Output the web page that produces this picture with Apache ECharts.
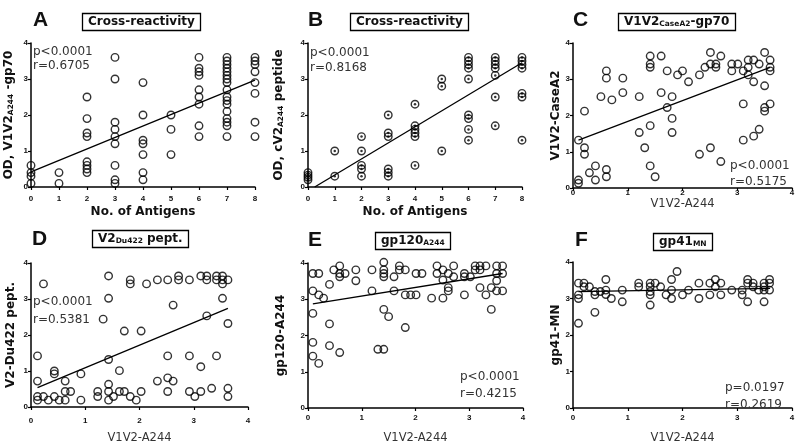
<!DOCTYPE html>
<html><head><meta charset="utf-8">
<script src="https://cdn.jsdelivr.net/npm/echarts@6/dist/echarts.min.js"></script>
<style>html,body{margin:0;padding:0;background:#fff}#c{width:800px;height:445px}</style>
</head><body><div id="c"></div>
<script>
// ---- Data ----
const ptsA = [[0,0.6],[0,0.4],[0,0.3],[0,0.1],[1,0.4],[1,0.1],
 [2,2.5],[2,1.9],[2,1.5],[2,1.4],[2,0.7],[2,0.6],[2,0.5],[2,0.4],
 [3,3.6],[3,3.0],[3,1.8],[3,1.6],[3,1.4],[3,1.2],[3,0.6],[3,0.2],[3,0.1],
 [4,2.9],[4,2.0],[4,1.3],[4,1.2],[4,0.9],[4,0.4],[4,0.2],
 [5,2.0],[5,1.6],[5,0.9],
 [6,3.6],[6,3.3],[6,3.2],[6,3.1],[6,2.7],[6,2.5],[6,2.3],[6,1.7],[6,1.4],
 [7,3.6],[7,3.5],[7,3.4],[7,3.3],[7,3.2],[7,3.1],[7,3.0],[7,2.9],[7,2.7],[7,2.5],[7,2.4],[7,2.3],[7,2.1],[7,1.9],[7,1.8],[7,1.7],[7,1.4],
 [8,3.6],[8,3.5],[8,3.4],[8,3.2],[8,2.9],[8,2.6],[8,1.8],[8,1.4]];
const lineA = [[0,0.42],[8,2.97]];

const ptsB = [[0,0.4],[0,0.33],[0,0.27],[0,0.2],[1,1.0],[1,0.3],
 [2,1.4],[2,1.0],[2,0.6],[2,0.5],[2,0.3],
 [3,2.0],[3,1.5],[3,1.4],[3,0.5],[3,0.4],[3,0.3],
 [4,2.3],[4,1.7],[4,1.6],[4,1.5],[4,1.4],[4,0.6],
 [5,3.0],[5,2.8],[5,1.0],
 [6,3.6],[6,3.5],[6,3.4],[6,3.3],[6,3.0],[6,2.0],[6,1.9],[6,1.6],[6,1.3],
 [7,3.6],[7,3.5],[7,3.4],[7,3.3],[7,3.1],[7,2.5],[7,1.7],
 [8,3.6],[8,3.5],[8,3.4],[8,3.3],[8,2.6],[8,2.5],[8,1.3]];
const lineB = [[0.25,0],[8,3.45]];

const ptsC = [[0.1,1.32],[0.1,0.22],[0.1,0.13],[0.21,2.12],[0.21,1.11],[0.21,0.93],[0.3,0.42],[0.41,0.61],[0.41,0.22],
 [0.51,2.52],[0.61,3.23],[0.61,3.03],[0.61,0.51],[0.61,0.31],[0.71,2.43],[0.91,3.03],[0.91,2.63],
 [1.21,2.52],[1.21,1.53],[1.31,1.11],[1.41,3.64],[1.41,3.42],[1.41,3.33],[1.41,1.72],[1.41,0.61],[1.5,0.31],
 [1.61,3.64],[1.61,2.63],[1.72,3.23],[1.72,2.22],[1.81,2.52],[1.81,1.92],[1.81,1.53],[1.91,3.12],[2.0,3.23],[2.11,2.93],
 [2.31,3.12],[2.31,0.93],[2.41,3.33],[2.51,3.74],[2.51,3.42],[2.51,1.11],[2.61,3.42],[2.61,3.33],[2.7,3.64],[2.7,0.73],
 [2.9,3.42],[2.9,3.23],[3.01,3.42],[3.11,3.23],[3.11,2.32],[3.11,1.32],[3.2,3.53],[3.2,3.33],[3.2,3.12],
 [3.3,3.53],[3.3,2.93],[3.3,1.43],[3.4,3.42],[3.4,1.62],[3.5,3.74],[3.5,2.82],[3.5,2.22],[3.5,2.12],
 [3.6,3.53],[3.6,3.33],[3.6,3.23],[3.6,2.32]];
const lineC = [[0.1,1.32],[3.6,3.33]];

const ptsD = [[0.23,3.42],[0.12,1.42],[0.12,0.72],[0.12,0.29],[0.12,0.19],[0.23,0.29],[0.32,0.19],[0.43,0.29],[0.43,1.0],[0.43,0.92],
 [0.52,0.19],[0.63,0.72],[0.63,0.43],[0.63,0.19],[0.73,0.43],[0.92,0.92],[0.92,0.19],[1.23,0.43],[1.23,0.29],[1.33,2.44],
 [1.43,3.64],[1.43,3.02],[1.43,1.32],[1.43,0.63],[1.43,0.43],[1.43,0.19],[1.52,0.29],[1.63,1.01],[1.63,0.43],[1.72,2.11],[1.72,0.43],
 [1.83,3.53],[1.83,3.42],[1.83,0.29],[1.94,0.19],[2.03,2.11],[2.03,0.43],[2.13,3.42],[2.33,3.53],[2.33,0.72],
 [2.52,1.42],[2.52,0.81],[2.52,0.43],[2.52,3.53],[2.62,2.83],[2.62,0.72],[2.72,3.64],[2.72,3.53],[2.92,3.53],[2.92,1.42],[2.92,0.43],
 [3.02,0.29],[3.13,3.64],[3.13,1.12],[3.13,0.43],[3.24,3.64],[3.24,3.53],[3.24,2.53],[3.33,0.52],[3.42,3.64],[3.42,3.53],[3.42,1.42],
 [3.53,3.64],[3.53,3.42],[3.53,3.53],[3.53,3.02],[3.63,3.53],[3.63,2.32],[3.63,0.52],[3.63,0.29]];
const lineD = [[0.12,0.54],[3.63,2.74]];

const ptsE = [[0.09,3.71],[0.2,3.71],[0.09,3.23],[0.2,3.12],[0.29,3.03],[0.09,2.61],[0.09,1.81],[0.09,1.43],[0.2,1.23],
 [0.4,3.41],[0.4,2.32],[0.4,1.72],[0.48,3.81],[0.59,3.92],[0.59,3.71],[0.59,3.62],[0.59,1.53],[0.69,3.71],[0.89,3.81],[0.89,3.51],
 [1.19,3.81],[1.19,3.23],[1.3,1.62],[1.41,1.62],[1.41,4.02],[1.41,3.81],[1.41,3.71],[1.41,3.62],[1.41,2.72],[1.5,2.52],
 [1.6,3.62],[1.6,3.23],[1.7,3.92],[1.7,3.81],[1.81,3.81],[1.81,2.22],[1.81,3.12],[1.91,3.12],[2.01,3.12],[2.01,3.71],[2.12,3.71],
 [2.3,3.03],[2.4,3.92],[2.4,3.71],[2.51,3.81],[2.51,3.03],[2.51,3.53],[2.61,3.32],[2.61,3.23],[2.61,3.71],[2.71,3.92],[2.71,3.62],
 [2.91,3.71],[2.91,3.62],[2.91,3.12],[3.02,3.62],[3.11,3.92],[3.2,3.92],[3.31,3.92],[3.2,3.81],[3.11,3.81],[3.2,3.32],[3.31,3.12],
 [3.41,3.32],[3.41,2.72],[3.51,3.92],[3.62,3.92],[3.51,3.71],[3.51,3.51],[3.51,3.23],[3.62,3.71],[3.62,3.23]];
const lineE = [[0.09,2.87],[3.62,3.71]];

const ptsF = [[0.1,2.32],[0.1,3.42],[0.1,3.1],[0.1,3.0],[0.2,3.42],[0.2,3.32],[0.3,3.32],[0.4,2.62],[0.4,3.19],[0.4,3.1],
 [0.5,3.19],[0.6,3.52],[0.6,3.23],[0.6,3.11],[0.7,3.0],[0.9,3.23],[0.9,2.91],[1.2,3.42],[1.2,3.32],
 [1.41,3.42],[1.41,3.32],[1.41,3.19],[1.41,3.1],[1.41,2.82],[1.5,3.42],[1.6,3.32],[1.7,3.1],[1.8,3.52],[1.8,3.23],[1.8,3.0],
 [1.9,3.74],[2.0,3.1],[2.11,3.23],[2.3,3.42],[2.3,3.0],[2.5,3.42],[2.5,3.1],[2.6,3.52],[2.6,3.32],[2.7,3.42],[2.7,3.1],
 [2.9,3.23],[3.09,3.23],[3.09,3.1],[3.19,3.52],[3.19,3.42],[3.19,2.91],[3.29,3.42],[3.29,3.32],[3.39,3.23],
 [3.49,3.42],[3.49,3.32],[3.49,3.23],[3.49,2.91],[3.59,3.52],[3.59,3.42],[3.59,3.23]];
const lineF = [[0.1,3.19],[3.6,3.28]];

const panelLetters = ['A','B','C','D','E','F'];
const boxTitles = ['Cross-reactivity','Cross-reactivity','V1V2{s|CaseA2}-gp70','V2{s|Du422} pept.','gp120{s|A244}','gp41{s|MN}'];
const statTexts = ['p<0.0001\nr=0.6705','p<0.0001\nr=0.8168','p<0.0001\nr=0.5175','p<0.0001\nr=0.5381','p<0.0001\nr=0.4215','p=0.0197\nr=0.2619'];
const xNames = ['No. of Antigens','No. of Antigens','V1V2-A244','V1V2-A244','V1V2-A244','V1V2-A244'];
const yNames = ['OD, V1V2{s|A244} -gp70','OD, cV2{s|A244} peptide','V1V2-CaseA2','V2-Du422 pept.','gp120-A244','gp41-MN'];
const xMaxes = [8,8,4,4,4,4];
const yMax = 4;

// ---- Layout ----
const grids = [
 {left:31,top:43,width:224,height:144},
 {left:308,top:43,width:214,height:144},
 {left:573,top:43,width:219,height:145},
 {left:31,top:263,width:217,height:144},
 {left:308,top:263,width:215,height:145},
 {left:573,top:262,width:219,height:146}
];
const xLabelMargin = [8,8,1,10,6,6];
const xNameGap = [19,19,9,25,24,24];
const xNameBold = [true,true,false,false,false,false];
const yNameGap = [16,23,10,14,21,11];
const letterPos = [[33,10],[308,10],[573,10],[32,229],[308,230],[575,230]];
const boxPos = [[82,13],[350,13],[618,13],[92,230],[375,232],[653,233]];
const statPos = [[33,45],[310,45],[730,158],[33,293],[460,368],[725,379]];
const statLH = [14,15,16,18,17,17];

const FONT = 'DejaVu Sans';
const pts = [ptsA,ptsB,ptsC,ptsD,ptsE,ptsF];
const lines = [lineA,lineB,lineC,lineD,lineE,lineF];

const sub = {fontSize:7.5,fontWeight:'bold',fontFamily:FONT,color:'#111',verticalAlign:'bottom',padding:[3,0,0,0]};

const titles = [];
panelLetters.forEach((t,i)=>titles.push({text:t,left:letterPos[i][0],top:letterPos[i][1],padding:0,
  textStyle:{fontSize:21,fontWeight:'bold',fontFamily:'Liberation Sans',color:'#111'}}));
boxTitles.forEach((t,i)=>titles.push({text:t,left:boxPos[i][0],top:boxPos[i][1],padding:[3,6,3,6],
  borderColor:'#000',borderWidth:1.3,
  textStyle:{fontSize:12,fontWeight:'bold',fontFamily:FONT,color:'#111',rich:{s:sub}}}));
statTexts.forEach((t,i)=>titles.push({text:t,left:statPos[i][0],top:statPos[i][1],padding:0,
  textStyle:{fontSize:12,fontWeight:'normal',fontFamily:FONT,color:'#333',lineHeight:statLH[i]}}));

const xAxis = [], yAxis = [], series = [];
for(let i=0;i<6;i++){
  xAxis.push({gridIndex:i,type:'value',min:0,max:xMaxes[i],interval:1,
    axisLine:{show:true,onZero:false,lineStyle:{color:'#000',width:1.5}},
    axisTick:{show:true,length:3,lineStyle:{color:'#000',width:1.2}},
    splitLine:{show:false},
    axisLabel:{show:true,margin:xLabelMargin[i],fontSize:8,fontWeight:'bold',fontFamily:'Liberation Sans',color:'#111'},
    name:xNames[i],nameLocation:'middle',nameGap:xNameGap[i],
    nameTextStyle:{fontSize:xNameBold[i]?12:11.5,fontWeight:xNameBold[i]?'bold':'normal',fontFamily:FONT,color:xNameBold[i]?'#111':'#333'}});
  yAxis.push({gridIndex:i,type:'value',min:0,max:yMax,interval:1,
    axisLine:{show:true,onZero:false,lineStyle:{color:'#000',width:1.5}},
    axisTick:{show:true,length:3,lineStyle:{color:'#000',width:1.2}},
    splitLine:{show:false},
    axisLabel:{show:true,margin:3,fontSize:8,fontWeight:'bold',fontFamily:'Liberation Sans',color:'#111'},
    name:yNames[i],nameLocation:'middle',nameGap:yNameGap[i],nameRotate:90,
    nameTextStyle:{fontSize:12,fontWeight:'bold',fontFamily:FONT,color:'#111',rich:{s:sub}}});
  series.push({type:'scatter',xAxisIndex:i,yAxisIndex:i,data:pts[i],symbol:'circle',symbolSize:7.5,clip:false,
    itemStyle:{color:'rgba(0,0,0,0)',borderColor:'#000',borderWidth:1.4},silent:true,z:3});
  if(i===1){
    series.push({type:'scatter',xAxisIndex:i,yAxisIndex:i,data:pts[i],symbol:'circle',symbolSize:2.5,clip:false,
      itemStyle:{color:'#000'},silent:true,z:4});
  }
  series.push({type:'line',xAxisIndex:i,yAxisIndex:i,data:lines[i],showSymbol:false,symbol:'none',
    lineStyle:{color:'#000',width:1.3},silent:true,z:2});
}

const chart = echarts.init(document.getElementById('c'),null,{renderer:'canvas'});
chart.setOption({animation:false,backgroundColor:'#fff',title:titles,grid:grids,xAxis,yAxis,series});
</script></body></html>
